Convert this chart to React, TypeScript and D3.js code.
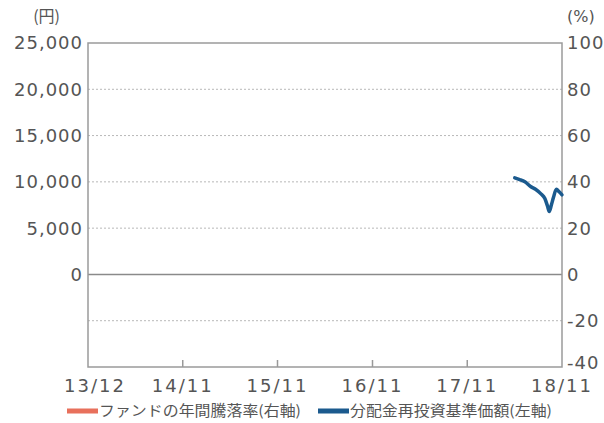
import React from 'react';
import * as d3 from 'd3';

// 分配金再投資基準価額 (円, left axis)
const navDates = [
  '2018-06-01', '2018-06-20', '2018-07-10', '2018-08-01', '2018-08-20',
  '2018-09-10', '2018-09-25', '2018-10-05', '2018-10-12', '2018-10-20',
  '2018-10-28', '2018-11-08', '2018-11-20', '2018-11-30',
];
const navValues = [10430, 10250, 10000, 9500, 9200, 8700, 8200, 7400, 6800, 7500, 8300, 9200, 8900, 8600];

const xTickDates = ['2013-11-30', '2014-11-30', '2015-11-30', '2016-11-30', '2017-11-30', '2018-11-30'];
const xTickLabels = ['13/12', '14/11', '15/11', '16/11', '17/11', '18/11'];
const leftTicks = [25000, 20000, 15000, 10000, 5000, 0];
const rightTicks = [100, 80, 60, 40, 20, 0, -20, -40];
const gridTicks = [80, 60, 40, 20, -20];

const legendItems = [
  { label: 'ファンドの年間騰落率(右軸)', color: '#e8705c' },
  { label: '分配金再投資基準価額(左軸)', color: '#1b5a8e' },
];

const W = 604;
const H = 423;
const margin = { left: 88, right: 42, top: 43, bottom: 56 };

export default function App() {
  const x = d3.scaleTime()
    .domain([new Date(xTickDates[0]), new Date(xTickDates[xTickDates.length - 1])])
    .range([margin.left, W - margin.right]);
  const yR = d3.scaleLinear().domain([-40, 100]).range([H - margin.bottom, margin.top]);
  // left axis shares the grid: 25,000 yen == 100 %
  const yL = d3.scaleLinear().domain([-10000, 25000]).range([H - margin.bottom, margin.top]);

  const line = d3.line<number>()
    .x((_, i) => x(new Date(navDates[i])))
    .y(d => yL(d))
    .curve(d3.curveMonotoneX);

  const font = '"DejaVu Sans", sans-serif';
  const x0 = margin.left;
  const x1 = W - margin.right;
  const y0 = margin.top;
  const y1 = H - margin.bottom;

  return (
    <svg width={W} height={H} style={{ position: 'absolute', left: 0, top: 0 }}>
      <rect width={W} height={H} fill="#fff" />

      {/* grid */}
      {gridTicks.map(t => (
        <line key={t} x1={x0} x2={x1} y1={yR(t)} y2={yR(t)}
          stroke="#b8b8b8" strokeWidth={1} strokeDasharray="2,2" />
      ))}
      <line x1={x0} x2={x1} y1={yR(0)} y2={yR(0)} stroke="#8a8a8a" strokeWidth={1.5} />

      {/* frame */}
      <rect x={x0} y={y0} width={x1 - x0} height={y1 - y0} fill="none" stroke="#9a9a9a" strokeWidth={1.5} />
      {xTickDates.slice(1, -1).map(d => (
        <line key={d} x1={x(new Date(d))} x2={x(new Date(d))} y1={y1} y2={y1 - 7}
          stroke="#9a9a9a" strokeWidth={1.5} />
      ))}

      {/* data */}
      <path d={line(navValues) || ''} fill="none" stroke="#1b5a8e" strokeWidth={3.5}
        strokeLinejoin="round" strokeLinecap="round" />

      {/* left axis */}
      <g fontFamily={font} fontSize={18} fill="#555" textAnchor="end" letterSpacing={1}>
        {leftTicks.map(t => (
          <text key={t} x={x0 - 5} y={yL(t)} dy="0.36em">{d3.format(',')(t)}</text>
        ))}
        <text x={60} y={16} dy="0.36em" fontSize={16} letterSpacing={0} fontFamily='"Noto Sans CJK JP", sans-serif'>(円)</text>
      </g>

      {/* right axis */}
      <g fontFamily={font} fontSize={18} fill="#555" textAnchor="start" letterSpacing={1}>
        {rightTicks.map(t => (
          <text key={t} x={x1 + 5} y={yR(t) - (t === -40 ? 4 : 0)} dy="0.36em">{t}</text>
        ))}
        <text x={567} y={16} dy="0.36em" fontSize={16} letterSpacing={0}>(%)</text>
      </g>

      {/* x axis */}
      <g fontFamily={font} fontSize={18} fill="#555" textAnchor="middle" letterSpacing={2}>
        {xTickDates.map((d, i) => (
          <text key={d} x={x(new Date(d)) + (i === 0 ? 7 : 0)} y={386} dy="0.36em">{xTickLabels[i]}</text>
        ))}
      </g>

      {/* legend */}
      <g fontFamily='"Noto Sans CJK JP", sans-serif' fontSize={14.5} fill="#555">
        {legendItems.map((item, i) => {
          const lx = i === 0 ? 67 : 318;
          return (
            <g key={item.label}>
              <rect x={lx} y={408.5} width={31} height={5} fill={item.color} />
              <text x={lx + 32} y={411} dy="0.36em" textLength={202} lengthAdjust="spacingAndGlyphs">{item.label}</text>
            </g>
          );
        })}
      </g>
    </svg>
  );
}
